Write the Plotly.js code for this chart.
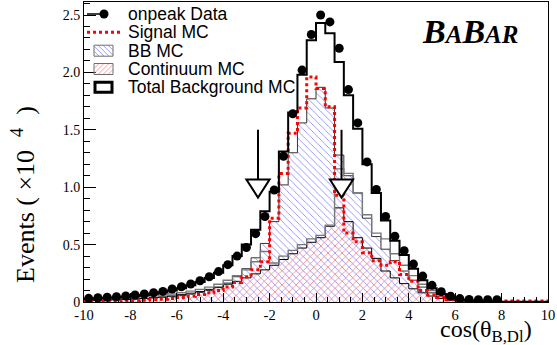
<!DOCTYPE html>
<html><head><meta charset="utf-8">
<script src="https://cdn.plot.ly/plotly-3.0.1.min.js"></script>
<style>html,body{margin:0;padding:0;background:#fff}#chart{width:557px;height:345px}</style>
</head><body><div id="chart"></div>
<script>
// ---- binning ----
const binLow = -10, binWidth = 0.4, nBins = 50;
// ---- values (x10^4 events per bin) ----
const dataValues = [0.032,0.037,0.041,0.046,0.052,0.061,0.070,0.081,0.092,0.113,
  0.133,0.157,0.185,0.220,0.265,0.325,0.400,0.475,0.595,0.745,
  0.976,1.270,1.640,2.020,2.330,2.500,2.440,2.210,1.850,1.560,
  1.220,0.980,0.745,0.573,0.447,0.330,0.226,0.145,0.090,0.050,
  0.030,0.022,0.020,0.020,0.020];
const totalBkgMC = [0.028,0.032,0.036,0.040,0.046,0.053,0.062,0.072,0.085,0.100,
  0.120,0.145,0.175,0.210,0.255,0.320,0.400,0.500,0.630,0.790,
  0.960,1.310,1.650,1.980,2.280,2.430,2.340,2.090,1.800,1.510,
  1.200,0.950,0.710,0.534,0.410,0.290,0.190,0.120,0.070,0.040,
  0.020,0.012,0.008,0.006,0.004,0.002,0.002,0.002,0.002,0.002];
const bbMC = [0.016,0.018,0.020,0.021,0.024,0.027,0.031,0.035,0.041,0.047,
  0.056,0.068,0.083,0.100,0.125,0.165,0.220,0.290,0.385,0.510,
  0.700,1.020,1.300,1.560,1.770,1.870,1.690,1.280,1.100,0.950,
  0.730,0.570,0.460,0.360,0.270,0.190,0.130,0.080,0.045,0.025,
  0.012,0.006,0.004,0.003,0.002,0.001,0.001,0.001,0.001,0.001];
const continuumMC = [0.012,0.014,0.016,0.019,0.022,0.026,0.031,0.037,0.044,0.053,
  0.064,0.077,0.092,0.110,0.130,0.155,0.180,0.210,0.245,0.280,
  0.320,0.370,0.420,0.470,0.520,0.560,0.660,0.820,0.700,0.560,
  0.470,0.380,0.270,0.210,0.160,0.115,0.080,0.052,0.030,0.017,
  0.010,0.006,0.004,0.003,0.002,0.001,0.001,0.001,0.001,0.001];
const signalMC = [0.004,0.005,0.006,0.008,0.010,0.012,0.015,0.019,0.024,0.030,
  0.040,0.050,0.065,0.080,0.100,0.130,0.170,0.220,0.280,0.350,
  0.730,1.120,1.470,1.690,1.960,1.860,1.700,0.930,0.600,0.525,
  0.430,0.360,0.320,0.350,0.240,0.180,0.100,0.060,0.040,0.020,
  0.010,0.008,0.008,0.008,0.008,0.008,0.008,0.008,0.008,0.008];
const bkgOnlyMC = [0.024,0.027,0.030,0.032,0.036,0.041,0.047,0.053,0.061,0.070,
  0.080,0.095,0.110,0.130,0.155,0.190,0.230,0.280,0.350,0.440,
  0.340,0.400,0.450,0.500,0.550,0.580,0.670,1.160,1.120,0.950,
  0.760,0.600,0.550,0.420,0.320,0.230,0.155,0.100,0.060,0.030,
  0.012,0.007,0.005,0.004,0.003,0.002,0.002,0.002,0.002,0.002];
const cutPositions = [-2.5, 1.1];
// ---- ticks / labels ----
const xTickVals = [-10,-8,-6,-4,-2,0,2,4,6,8,10];
const xTickText = ['-10','-8','-6','-4','-2','0','2','4','6','8','10'];
const yTickVals = [0,0.5,1,1.5,2,2.5];
const yTickText = ['0','0.5','1.0','1.5','2.0','2.5'];
const legendLabels = ['onpeak Data','Signal MC','BB MC','Continuum MC','Total Background MC'];

// ---- derived bin geometry ----
const edges = [], centers = [];
for (let i = 0; i <= nBins; i++) edges.push(binLow + i*binWidth);
for (let i = 0; i < nBins; i++) centers.push(binLow + (i+0.5)*binWidth);
const stepY = v => v.concat([v[v.length-1]]);

// ---- pixel helpers (plot area 84..548 x 2..302) ----
const L = 84, R = 9, T = 2, B = 43, PW = 557-L-R, PH = 345-T-B;
const px = x => (x - L)/PW;
const py = y => (345 - B - y)/PH;

const blueHatch = 'rgb(130,130,255)', redHatch = 'rgb(255,130,130)';
const traces = [
  {x: edges, y: stepY(bbMC), type:'scatter', mode:'lines', line:{shape:'hv', color:'#333', width:1},
   fill:'tozeroy', fillcolor:'rgba(0,0,0,0)',
   fillpattern:{shape:'\\', fgcolor:blueHatch, bgcolor:'rgba(0,0,0,0)', size:5, solidity:0.16}, showlegend:false, hoverinfo:'skip'},
  {x: edges, y: stepY(continuumMC), type:'scatter', mode:'lines', line:{shape:'hv', color:'#000', width:1},
   fill:'tozeroy', fillcolor:'rgba(0,0,0,0)',
   fillpattern:{shape:'/', fgcolor:redHatch, bgcolor:'rgba(0,0,0,0)', size:5, solidity:0.16}, showlegend:false, hoverinfo:'skip'},
  {x: edges, y: stepY(bkgOnlyMC), type:'scatter', mode:'lines', line:{shape:'hv', color:'rgb(120,120,120)', width:1.4}, showlegend:false, hoverinfo:'skip'},
  {x: edges, y: stepY(signalMC), type:'scatter', mode:'lines', line:{shape:'hv', color:'#ff0000', width:3, dash:'dot'}, showlegend:false, hoverinfo:'skip'},
  {x: edges, y: stepY(totalBkgMC), type:'scatter', mode:'lines', line:{shape:'hv', color:'#000', width:2}, showlegend:false, hoverinfo:'skip'},
  {x: centers.slice(0, dataValues.length), y: dataValues, type:'scatter', mode:'markers',
   marker:{color:'#000', size:9, symbol:'circle'}, showlegend:false, hoverinfo:'skip'}
];

// ---- shapes: cut arrows ----
const shapes = [];
cutPositions.forEach(c => {
  shapes.push({type:'line', xref:'x', yref:'y', x0:c, x1:c, y0:1.5, y1:1.067, line:{color:'#000', width:2}, layer:'above'});
  shapes.push({type:'path', xref:'x', yref:'y', path:`M ${c-0.5},1.067 L ${c+0.5},1.067 L ${c},0.91 Z`,
    fillcolor:'#fff', line:{color:'#000', width:2}, layer:'above'});
});

// ---- manual legend ----
function hatchLines(x0, y0, x1, y1, dir, sp, color) {
  const out = [];
  if (dir === '\\') {
    for (let c = y0 - x1; c <= y1 - x0; c += sp) {
      const xa = Math.max(x0, y0 - c), xb = Math.min(x1, y1 - c);
      if (xb > xa) out.push({type:'line', xref:'paper', yref:'paper', x0:px(xa), y0:py(xa+c), x1:px(xb), y1:py(xb+c), line:{color:color, width:0.8}});
    }
  } else {
    for (let c = x0 + y0; c <= x1 + y1; c += sp) {
      const xa = Math.max(x0, c - y1), xb = Math.min(x1, c - y0);
      if (xb > xa) out.push({type:'line', xref:'paper', yref:'paper', x0:px(xa), y0:py(c-xa), x1:px(xb), y1:py(c-xb), line:{color:color, width:0.8}});
    }
  }
  return out;
}
const rowY = [14, 32.3, 50.7, 69, 87.3];
// data symbol
shapes.push({type:'line', xref:'paper', yref:'paper', x0:px(87), x1:px(102), y0:py(rowY[0]), y1:py(rowY[0]), line:{color:'#000', width:1.5}});
shapes.push({type:'circle', xref:'paper', yref:'paper', x0:px(99.5), x1:px(108.5), y0:py(rowY[0]+4.5), y1:py(rowY[0]-4.5), fillcolor:'#000', line:{color:'#000', width:0}});
// signal symbol
shapes.push({type:'line', xref:'paper', yref:'paper', x0:px(87), x1:px(120), y0:py(rowY[1]), y1:py(rowY[1]), line:{color:'#ff0000', width:3, dash:'dot'}});
// BB box
hatchLines(94, rowY[2]-5.5, 113, rowY[2]+5.5, '\\', 5, blueHatch).forEach(s => shapes.push(s));
shapes.push({type:'rect', xref:'paper', yref:'paper', x0:px(94), x1:px(113), y0:py(rowY[2]+5.5), y1:py(rowY[2]-5.5), line:{color:'rgb(110,110,110)', width:1}});
// Continuum box
hatchLines(94, rowY[3]-5.5, 113, rowY[3]+5.5, '/', 5, redHatch).forEach(s => shapes.push(s));
shapes.push({type:'rect', xref:'paper', yref:'paper', x0:px(94), x1:px(113), y0:py(rowY[3]+5.5), y1:py(rowY[3]-5.5), line:{color:'rgb(110,110,110)', width:1}});
// Total bkg box
shapes.push({type:'rect', xref:'paper', yref:'paper', x0:px(95), x1:px(112), y0:py(rowY[4]+5), y1:py(rowY[4]-5), fillcolor:'#fff', line:{color:'#000', width:3}});

const annotations = legendLabels.map((t, i) => ({
  text: t, xref:'paper', yref:'paper', x: px(125.5), y: py(rowY[i]), xanchor:'left', yanchor:'middle',
  showarrow:false, font:{family:'Liberation Sans, Arial, sans-serif', size:17.5, color:'#000'}
}));
annotations.push({text:'<b><i>B<span style="font-size:25px">A</span>B<span style="font-size:25px">AR</span></i></b>',
  xref:'paper', yref:'paper', x: px(420), y: py(32), xanchor:'left', yanchor:'middle', showarrow:false,
  font:{family:'Liberation Serif, Times New Roman, serif', size:34, color:'#000'}});
annotations.push({text:'Events (\u00A0×10\u00A0\u00A0<sup>4</sup>\u00A0\u00A0)', xref:'paper', yref:'paper', x: px(23), y: py(195),
  xanchor:'center', yanchor:'middle', textangle:-90, showarrow:false,
  font:{family:'Liberation Serif, Times New Roman, serif', size:26, color:'#000'}});
annotations.push({text:'cos(θ<sub>B,Dl</sub>)', xref:'paper', yref:'paper', x: px(534), y: py(331),
  xanchor:'right', yanchor:'middle', showarrow:false,
  font:{family:'Liberation Serif, Times New Roman, serif', size:24, color:'#000'}});

const layout = {
  width:557, height:345, margin:{l:L, r:R, t:T, b:B, pad:0},
  paper_bgcolor:'#fff', plot_bgcolor:'#fff', showlegend:false,
  xaxis:{range:[-10,10], showline:true, mirror:true, linecolor:'#000', linewidth:1,
    ticks:'inside', ticklen:9, tickwidth:1, tickcolor:'#000',
    tickmode:'array', tickvals:xTickVals, ticktext:xTickText,
    tickfont:{family:'Liberation Serif, Times New Roman, serif', size:14.5, color:'#000'},
    showgrid:false, zeroline:false, fixedrange:true,
    minor:{tickmode:'linear', tick0:-10, dtick:0.5, ticks:'inside', ticklen:5, tickwidth:1, tickcolor:'#000', showgrid:false}},
  yaxis:{range:[0, PH/114.8], showline:true, mirror:true, linecolor:'#000', linewidth:1,
    ticks:'inside', ticklen:12, tickwidth:1, tickcolor:'#000',
    tickmode:'array', tickvals:yTickVals, ticktext:yTickText,
    tickfont:{family:'Liberation Serif, Times New Roman, serif', size:14, color:'#000'},
    showgrid:false, zeroline:false, fixedrange:true,
    minor:{tickmode:'linear', tick0:0, dtick:0.1, ticks:'inside', ticklen:6, tickwidth:1, tickcolor:'#000', showgrid:false}},
  shapes: shapes, annotations: annotations
};
Plotly.newPlot('chart', traces, layout, {staticPlot:true, displayModeBar:false});
</script></body></html>
